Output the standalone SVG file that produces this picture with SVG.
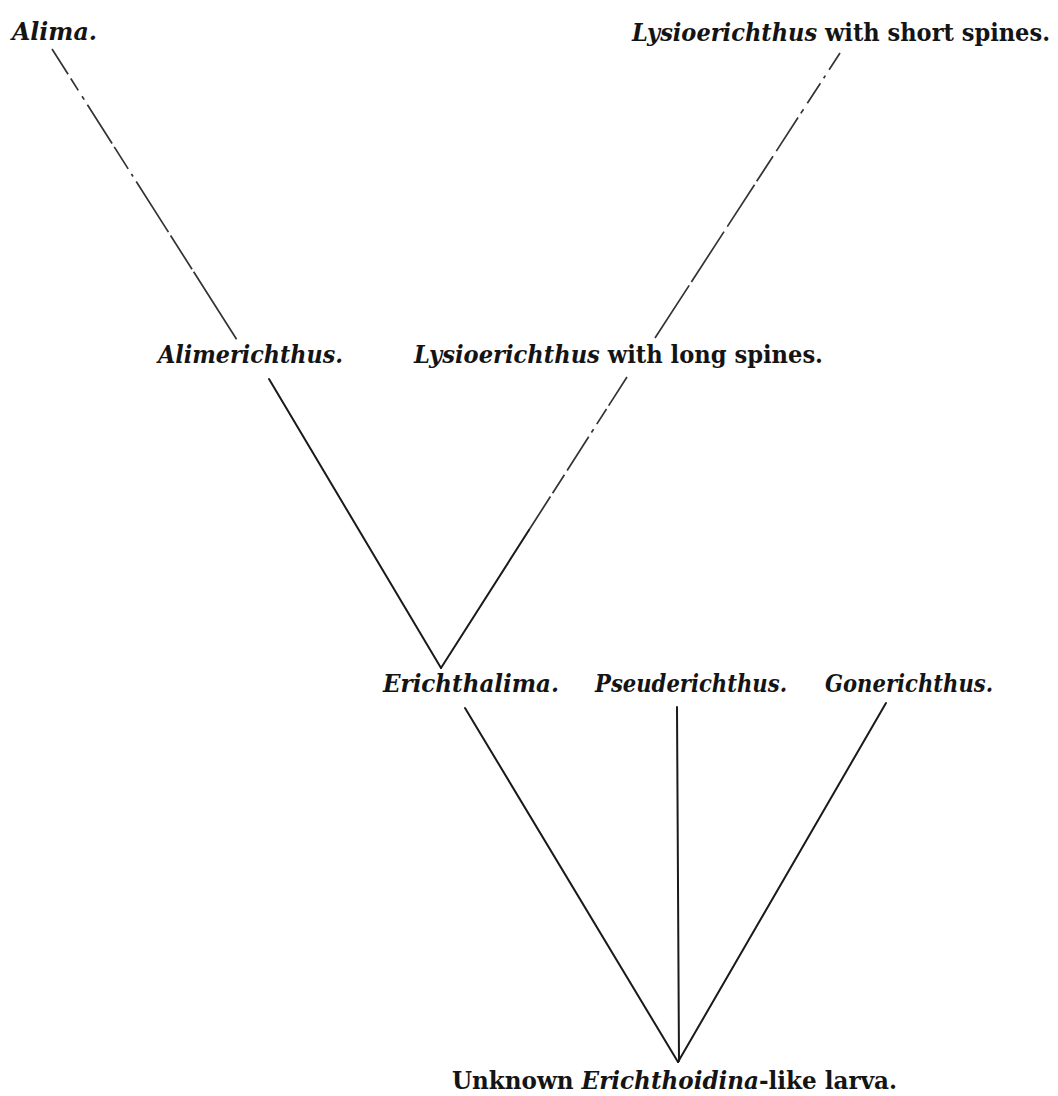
<svg xmlns="http://www.w3.org/2000/svg" width="1058" height="1096" viewBox="0 0 1058 1096">
<style>
.lbl{font-family:"DejaVu Serif","Liberation Serif",serif;font-size:24px;font-weight:bold;fill:#141414;}
.it{font-style:italic;}
.ln{stroke:#1a1a1a;stroke-width:2;fill:none;stroke-linecap:round;}
.br{stroke:#333333;stroke-width:1.7;fill:none;}
</style>
<rect width="1058" height="1096" fill="#ffffff"/>
<g id="connectors">
<line class="br" x1="52" y1="49" x2="237" y2="340" stroke-dasharray="30 5 14 7 4 6 46 4 26 6 3 6 60 4 40 3 80"/>
<line class="br" x1="840" y1="53" x2="655" y2="338" stroke-dasharray="20 7 3 6 24 7 5 5 40 6 30 4 50 6 60 4 70"/>
<line class="br" x1="627" y1="377" x2="529" y2="530" stroke-dasharray="34 4 18 6 4 5 40 5 22 4 40"/>
<line class="ln" x1="529" y1="530" x2="441" y2="668"/>
<line class="ln" x1="269" y1="379" x2="441" y2="668"/>
<line class="ln" x1="465" y1="708" x2="678" y2="1062"/>
<line class="ln" x1="677" y1="707" x2="679" y2="1061"/>
<line class="ln" x1="886" y1="703" x2="678" y2="1062"/>
</g>
<g id="node-alima"><text class="lbl it" x="12" y="40" textLength="85" lengthAdjust="spacingAndGlyphs">Alima.</text></g>
<g id="node-lysio-short"><text class="lbl" x="632" y="41" textLength="418" lengthAdjust="spacingAndGlyphs"><tspan class="it">Lysioerichthus</tspan> with short spines.</text></g>
<g id="node-alimerichthus"><text class="lbl it" x="158" y="363" textLength="185" lengthAdjust="spacingAndGlyphs">Alimerichthus.</text></g>
<g id="node-lysio-long"><text class="lbl" x="414" y="363" textLength="409" lengthAdjust="spacingAndGlyphs"><tspan class="it">Lysioerichthus</tspan> with long spines.</text></g>
<g id="node-erichthalima"><text class="lbl it" x="383" y="692" textLength="176" lengthAdjust="spacingAndGlyphs">Erichthalima.</text></g>
<g id="node-pseuderichthus"><text class="lbl it" x="595" y="692" textLength="192" lengthAdjust="spacingAndGlyphs">Pseuderichthus.</text></g>
<g id="node-gonerichthus"><text class="lbl it" x="825" y="692" textLength="168" lengthAdjust="spacingAndGlyphs">Gonerichthus.</text></g>
<g id="node-unknown"><text class="lbl" x="452" y="1089" textLength="445" lengthAdjust="spacingAndGlyphs">Unknown <tspan class="it">Erichthoidina</tspan>-like larva.</text></g>
</svg>
